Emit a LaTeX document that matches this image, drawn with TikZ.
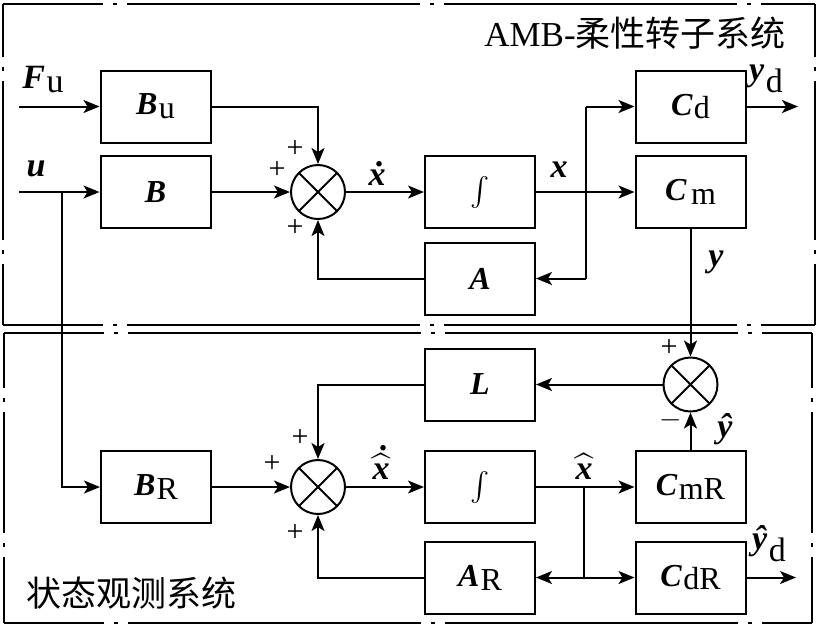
\documentclass[tikz,border=0pt]{standalone}
\usepackage{amsmath}
\usepackage{fontspec}
\setmainfont{Liberation Serif}
\newfontfamily\cjk{Noto Sans CJK SC}
\usetikzlibrary{arrows.meta}
\newcommand{\bv}[1]{\textbf{\textit{#1}}}
\newcommand{\sbs}[1]{\kern0.04em\raisebox{-0.12em}{#1}}
\newcommand{\lsbs}[1]{\kern0.04em\raisebox{-0.38em}{#1}}
\newcommand{\topdot}[1]{\leavevmode\vbox{\offinterlineskip\halign{\hfil##\hfil\cr\kern0.12em\textbf{.}\cr\noalign{\kern0.06em}#1\cr}}}
\newcommand{\hatx}[1]{$\widehat{\text{#1}}$}
\begin{document}
\begin{tikzpicture}[x=0.5pt,y=-0.5pt,
  every node/.style={font=\fontsize{16}{19}\selectfont},
  blk/.style={draw, line width=1pt, minimum width=55pt, minimum height=36pt, inner sep=0pt},
  sumnode/.style={circle, draw, line width=1pt, minimum size=27pt, inner sep=0pt,
    path picture={\draw[line width=1pt] (path picture bounding box.north west) -- (path picture bounding box.south east)
      (path picture bounding box.north east) -- (path picture bounding box.south west);}},
  sig/.style={font=\fontsize{17}{20}\selectfont, inner sep=0pt, anchor=base},
  sgn/.style={font=\fontsize{15}{18}\selectfont, inner sep=0pt},
  ttl/.style={font=\fontsize{17.5}{20}\selectfont, inner sep=0pt},
  arr/.style={line width=1pt, -{Stealth[length=8pt,width=6.5pt,inset=2pt]}},
  ln/.style={line width=1pt},
  frameh/.style={line width=0.9pt, dash pattern=on 146.5pt off 5pt on 2pt off 5pt, dash phase=96.5pt},
  framevA/.style={line width=0.9pt, dash pattern=on 79.5pt off 5pt on 2pt off 5pt, dash phase=53pt},
  framevB/.style={line width=0.9pt, dash pattern=on 60.5pt off 5pt on 2pt off 5pt, dash phase=33pt}
]
\useasboundingbox (0,0) rectangle (818,629);

% frames
\draw[frameh] (3,4) -- (815,4);
\draw[frameh] (3,325) -- (815,325);
\draw[framevA] (3,4) -- (3,325);
\draw[framevA] (815,4) -- (815,325);
\draw[frameh] (4,333) -- (812,333);
\draw[frameh] (4,623) -- (812,623);
\draw[framevB] (4,333) -- (4,623);
\draw[framevB] (812,333) -- (812,623);

\node[ttl] (t1) at (635,33) {AMB-{\cjk 柔性转子系统}};
\node[ttl] (t2) at (131,593) {\cjk 状态观测系统};

% top blocks
\node[blk] (Bu) at (155.5,106.5) {\bv{B}\sbs{u}};
\node[blk] (B) at (155.5,192) {\bv{B}};
\node[sumnode] (S1) at (318,192) {};
\node[blk] (I1) at (480,192) {\fontsize{15}{17}\selectfont$\int$};
\node[blk] (A) at (480,278.5) {\bv{A}};
\node[blk] (Cd) at (690.5,106.5) {\bv{C}\sbs{d}};
\node[blk] (Cm) at (690.5,192) {\bv{C}\kern0.1em\sbs{m}};

% bottom blocks
\node[sumnode] (S2) at (690.5,384.5) {};
\node[blk] (L) at (480,384.5) {\bv{L}};
\node[blk] (BR) at (156,487) {\bv{B}\sbs{R}};
\node[sumnode] (S3) at (318,487) {};
\node[blk] (I2) at (480,487) {\fontsize{15}{17}\selectfont$\int$};
\node[blk] (AR) at (480,577.5) {\bv{A}\sbs{R}};
\node[blk] (CmR) at (690.5,487) {\bv{C}\sbs{mR}};
\node[blk] (CdR) at (690.5,577.5) {\bv{C}\sbs{dR}};

% signal labels
\node[sig] (lFu) at (43,88) {\bv{F}\sbs{u}};
\node[sig] (lu) at (36,176) {\bv{u}};
\node[sig] (lxd) at (377,185) {\topdot{\bv{x}}};
\node[sig] (lx) at (559,177) {\bv{x}};
\node[sig] (lyd) at (766,80) {\bv{y}\lsbs{d}};
\node[sig] (ly) at (716,266) {\bv{y}};
\node[sig] (lxhd) at (381,479) {\topdot{\hatx{\bv{x}}}};
\node[sig] (lxh) at (584,479) {\hatx{\bv{x}}};
\node[sig] (lyh) at (725,437) {\bv{ŷ}};
\node[sig] (lydh) at (769,549) {\bv{ŷ}\lsbs{d}};

% signs
\node[sgn] (p1) at (295,149) {+};
\node[sgn] (p2) at (277,170) {+};
\node[sgn] (p3) at (295,228) {+};
\node[sgn] (p4) at (300,438) {+};
\node[sgn] (p5) at (272,464) {+};
\node[sgn] (p6) at (295,533) {+};
\node[sgn] (p7) at (669,348) {+};
\node[sgn] (m1) at (671,420) {$-$};

% coordinates
\coordinate (fuin) at (19,106.5);
\coordinate (uin) at (19,192);
\coordinate (ubr) at (62,192);
\coordinate (xb1) at (586,106.5);
\coordinate (xb2) at (586,278.5);
\coordinate (ydout) at (798,106.5);
\coordinate (xh1) at (584,487);
\coordinate (xh2) at (584,577.5);
\coordinate (ydhout) at (796,577.5);

% top connectors
\draw[arr] (fuin) -- (Bu.west);
\draw[arr] (uin) -- (B.west);
\draw[arr] (ubr) |- (BR.west);
\draw[arr] (Bu.east) -| (S1.north);
\draw[arr] (B.east) -- (S1.west);
\draw[arr] (S1.east) -- (I1.west);
\draw[arr] (I1.east) -- (Cm.west);
\draw[arr] (xb1) -- (Cd.west);
\draw[ln] (xb1) -- (xb2);
\draw[arr] (xb2) -- (A.east);
\draw[arr] (A.west) -| (S1.south);
\draw[arr] (Cd.east) -- (ydout);
\draw[arr] (Cm.south) -- (S2.north);

% bottom connectors
\draw[arr] (S2.west) -- (L.east);
\draw[arr] (L.west) -| (S3.north);
\draw[arr] (BR.east) -- (S3.west);
\draw[arr] (S3.east) -- (I2.west);
\draw[arr] (I2.east) -- (CmR.west);
\draw[ln] (xh1) -- (xh2);
\draw[arr] (xh2) -- (AR.east);
\draw[arr] (xh2) -- (CdR.west);
\draw[arr] (AR.west) -| (S3.south);
\draw[arr] (CmR.north) -- (S2.south);
\draw[arr] (CdR.east) -- (ydhout);
\end{tikzpicture}
\end{document}
